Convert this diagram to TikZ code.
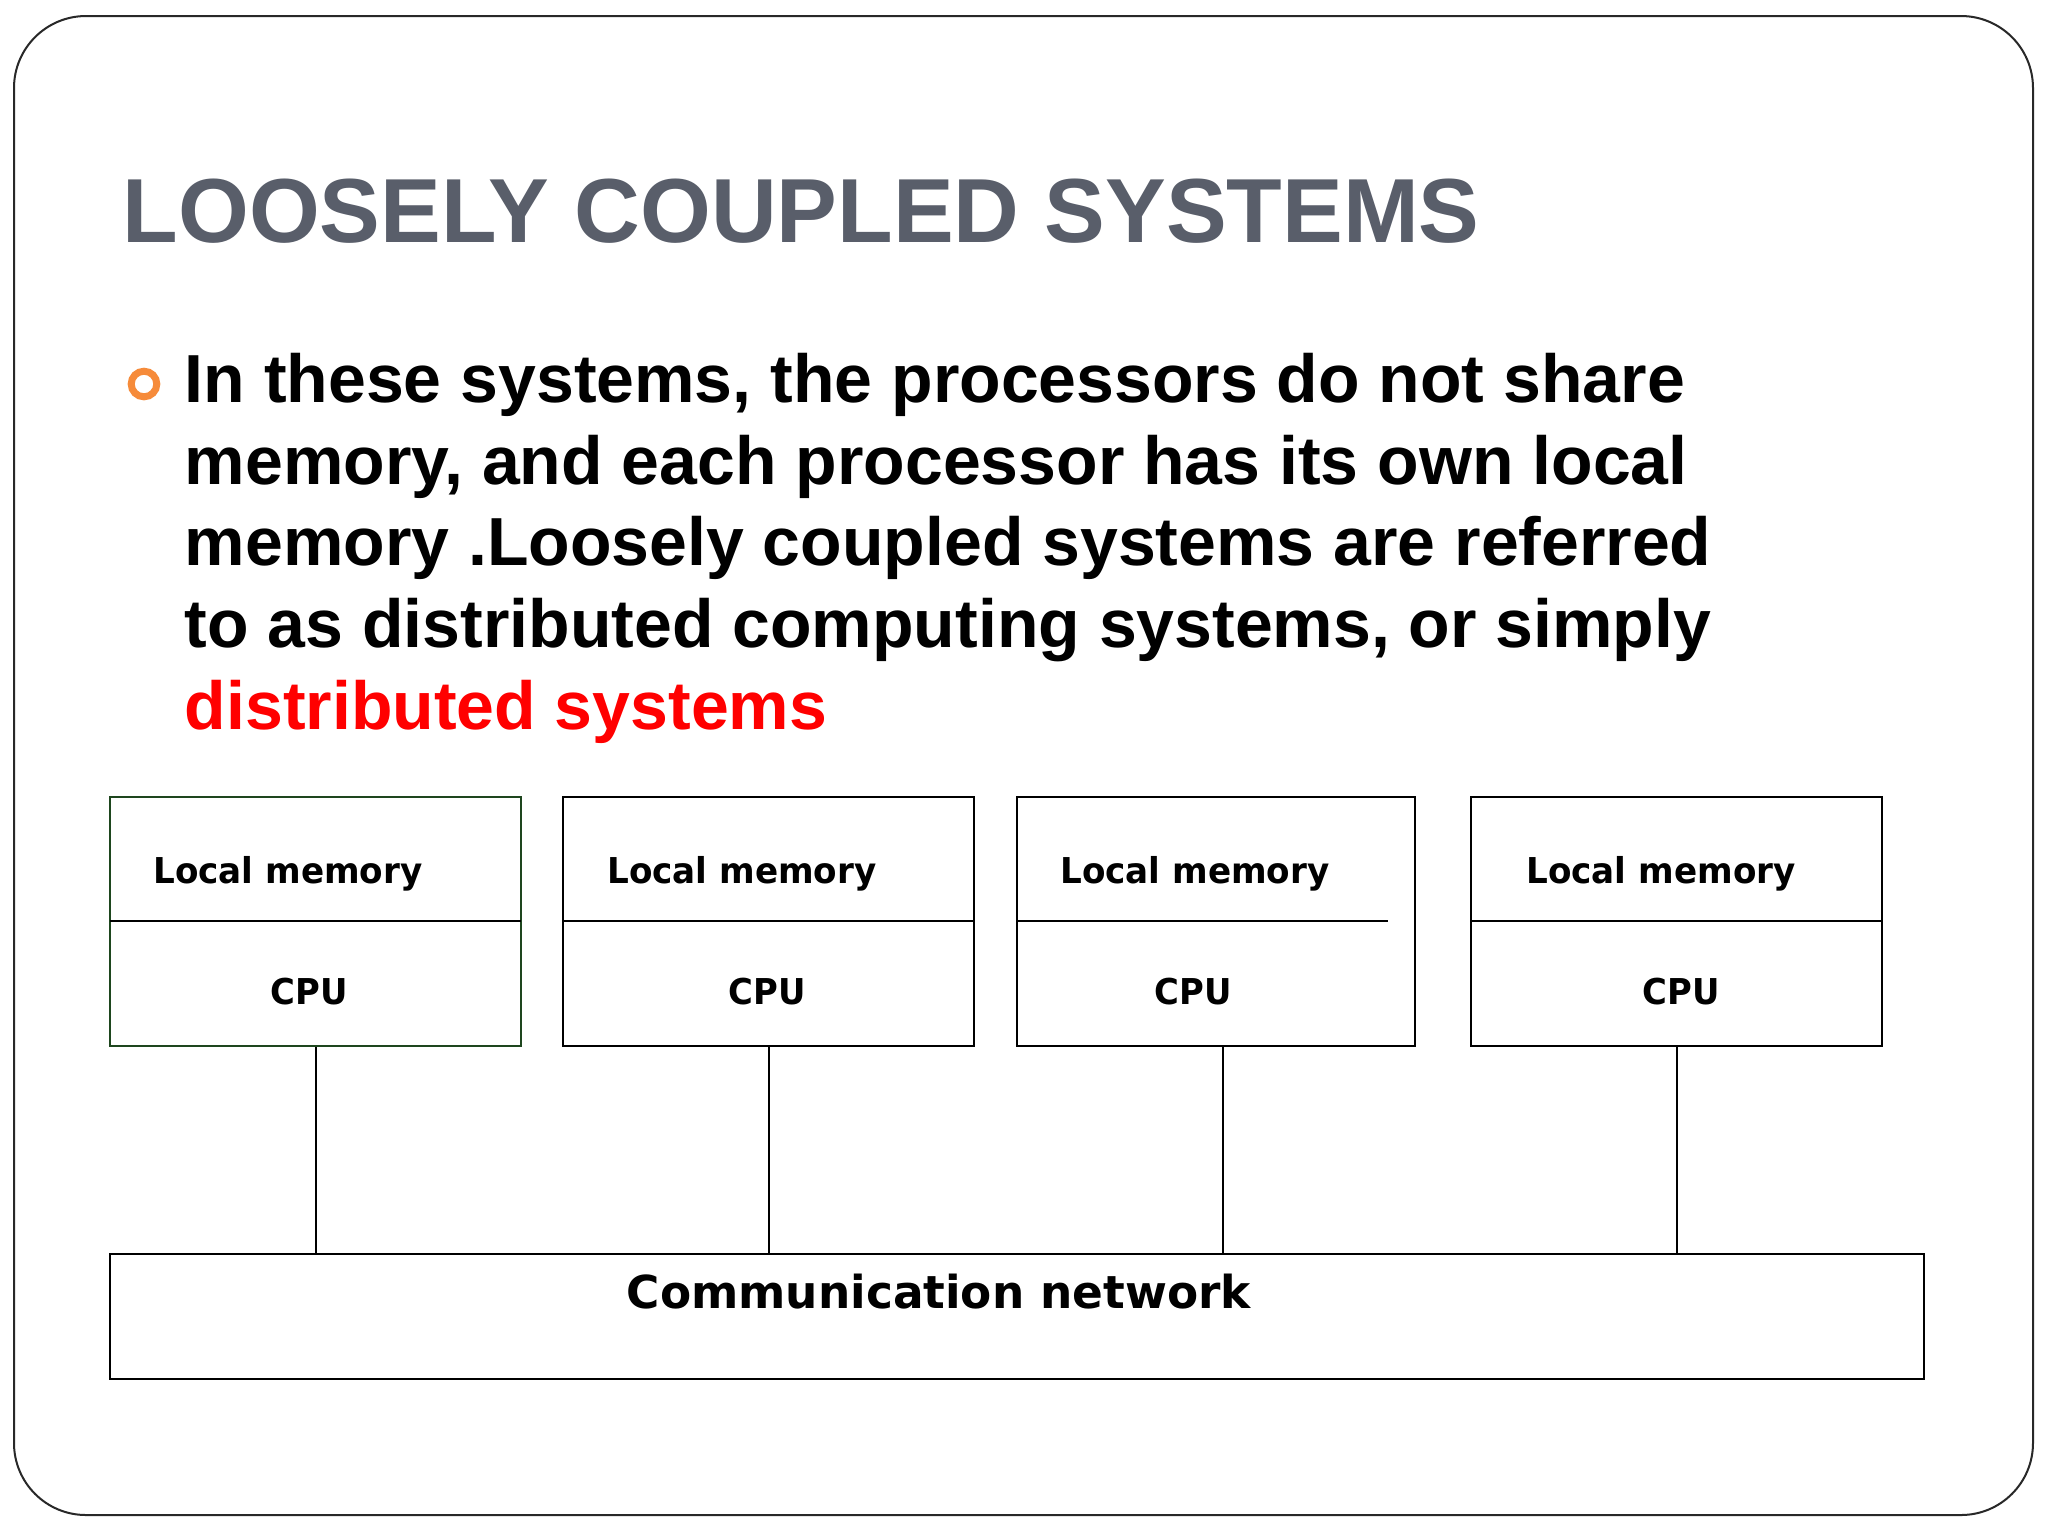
\documentclass[tikz,border=0pt]{standalone}
\usepackage{fontspec}
\usepackage{graphicx}
\usetikzlibrary{fit}
\setmainfont{Liberation Sans}
\newfontfamily\boxfont{DejaVu Sans}
\definecolor{titlegray}{RGB}{89,94,106}
\definecolor{bulletorange}{RGB}{246,139,58}
\definecolor{darkgreenline}{RGB}{30,70,30}
\definecolor{framegray}{RGB}{40,40,40}
\begin{document}
\begin{tikzpicture}[x=0.25pt,y=-0.25pt,
  titletext/.style={anchor=base west,inner sep=0pt,text=titlegray,font=\fontsize{22.75pt}{27pt}\selectfont\bfseries},
  bodytext/.style={anchor=base west,inner sep=0pt,font=\fontsize{17pt}{20.4pt}\selectfont\bfseries},
  unitbox/.style={draw=black,line width=0.65pt,inner sep=0pt},
  divider/.style={line width=0.6pt},
  memlabel/.style={anchor=base,inner sep=0pt,font=\boxfont\fontsize{8.9pt}{10pt}\selectfont\bfseries},
  netlabel/.style={anchor=base west,inner sep=0pt,font=\boxfont\fontsize{11.35pt}{13pt}\selectfont\bfseries},
  link/.style={line width=0.5pt}]
\useasboundingbox (0,0) rectangle (2048,1536);
\fill[white] (0,0) rectangle (2048,1536);
% slide frame
\draw[framegray,line width=0.5pt,rounded corners=18pt] (14,16) rectangle (2033,1515);
% title
\node[titletext] (title) at (122,242) {LOOSELY COUPLED SYSTEMS};
% bullet
\draw[bulletorange,line width=1.75pt] (144,384) circle[radius=3.2pt];
% body text
\node[bodytext] (l1) at (184,402) {In these systems, the processors do not share};
\node[bodytext] (l2) at (184,484) {memory, and each processor has its own local};
\node[bodytext] (l3) at (184,565) {memory .Loosely coupled systems are referred};
\node[bodytext] (l4) at (184,647) {to as distributed computing systems, or simply};
\node[bodytext,text=red] (l5) at (184,729) {distributed systems};
% processor boxes
\node[unitbox,draw=darkgreenline,fit={(110,797) (521,1046)}] (box1) {};
\node[unitbox,fit={(563,797) (974,1046)}] (box2) {};
\node[unitbox,fit={(1017,797) (1415,1046)}] (box3) {};
\node[unitbox,fit={(1471,797) (1882,1046)}] (box4) {};
\draw[divider] (110,921) -- (521,921);
\draw[divider] (563,921) -- (974,921);
\draw[divider] (1017,921) -- (1388,921);
\draw[divider] (1471,921) -- (1882,921);
% labels
\node[memlabel] (m1) at (288,883) {\scalebox{0.96}[1]{Local memory}};
\node[memlabel] (m2) at (742,883) {\scalebox{0.96}[1]{Local memory}};
\node[memlabel] (m3) at (1195,883) {\scalebox{0.96}[1]{Local memory}};
\node[memlabel] (m4) at (1661,883) {\scalebox{0.96}[1]{Local memory}};
\node[memlabel] (c1) at (309,1004) {\scalebox{0.95}[1]{CPU}};
\node[memlabel] (c2) at (767,1004) {\scalebox{0.95}[1]{CPU}};
\node[memlabel] (c3) at (1193,1004) {\scalebox{0.95}[1]{CPU}};
\node[memlabel] (c4) at (1681,1004) {\scalebox{0.95}[1]{CPU}};
% network
\node[unitbox,fit={(110,1254) (1924,1379)}] (net) {};
\node[netlabel] (netl) at (626,1308) {Communication network};
% connectors
\draw[link] (box1.south) -- (box1.south |- net.north);
\draw[link] (box2.south) -- (box2.south |- net.north);
\draw[link] ([xshift=1.75pt]box3.south) -- ([xshift=1.75pt]box3.south |- net.north);
\draw[link] (box4.south) -- (box4.south |- net.north);
\end{tikzpicture}
\end{document}
